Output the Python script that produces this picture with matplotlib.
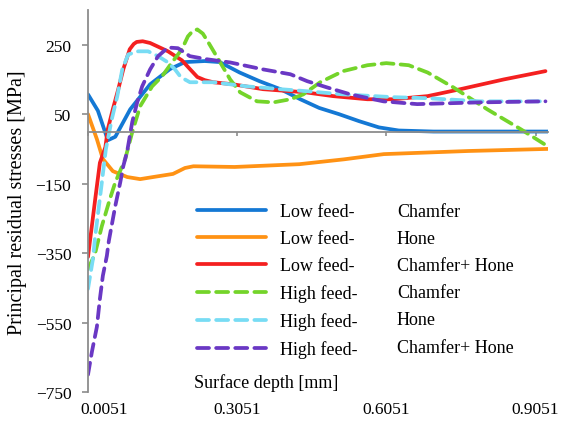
import matplotlib
matplotlib.use("Agg")
import matplotlib.pyplot as plt
import matplotlib.transforms as mtransforms
from matplotlib.lines import Line2D

plt.rcParams['font.family'] = ['Liberation Serif', 'DejaVu Serif']

# Low feed - Chamfer
blue_x = [0.0051, 0.025, 0.045, 0.06, 0.09, 0.13, 0.17, 0.20, 0.24, 0.27, 0.31, 0.35,
          0.392, 0.432, 0.47, 0.51, 0.55, 0.59, 0.63, 0.70, 0.80, 0.93]
blue_y = [107, 60, -25, -15, 64, 136, 180, 200, 203, 200, 170, 145,
          122, 93, 68, 50, 30, 12, 3, 0, 0, 0]

# Low feed - Hone
orange_x = [0.0051, 0.023, 0.035, 0.055, 0.084, 0.11, 0.136, 0.176, 0.20, 0.217,
            0.30, 0.43, 0.52, 0.60, 0.77, 0.93]
orange_y = [50, -22, -79, -114, -131, -137, -131, -122, -105, -100,
            -102, -94, -80, -65, -56, -50]

# Low feed - Chamfer+Hone
red_x = [0.0051, 0.02, 0.029, 0.040, 0.045, 0.055, 0.066, 0.076, 0.089, 0.097, 0.103, 0.115,
         0.13, 0.166, 0.194, 0.21, 0.225, 0.24, 0.257, 0.297, 0.357, 0.442, 0.498,
         0.567, 0.619, 0.688, 0.754, 0.841, 0.925]
red_y = [-361, -190, -90, -45, 7, 64, 122, 179, 237, 252, 258, 260,
         255, 231, 205, 180, 157, 148, 142, 136, 122, 113, 102,
         93, 93, 102, 122, 150, 174]

# High feed - Chamfer
green_x = [0.0051, 0.019, 0.033, 0.049, 0.060, 0.080, 0.094, 0.110, 0.134, 0.154, 0.174,
           0.194, 0.206, 0.216, 0.225, 0.236, 0.247, 0.271, 0.291, 0.311, 0.345, 0.378,
           0.412, 0.438, 0.472, 0.518, 0.567, 0.605, 0.650, 0.688, 0.740, 0.808, 0.875,
           0.929]
green_y = [-396, -353, -272, -195, -146, -79, -2, 73, 130, 159, 199,
           237, 274, 290, 294, 282, 257, 199, 150, 113, 87, 84,
           93, 107, 142, 174, 191, 197, 191, 170, 127, 64, 7,
           -42]

# High feed - Hone
cyan_x = [0.0051, 0.015, 0.019, 0.033, 0.041, 0.053, 0.064, 0.074, 0.086, 0.106, 0.126,
          0.146, 0.166, 0.18, 0.19, 0.20, 0.21, 0.257, 0.325, 0.392, 0.446, 0.518,
          0.619, 0.688, 0.794, 0.925]
cyan_y = [-453, -367, -309, -146, -51, 36, 102, 179, 222, 231, 231,
          217, 199, 179, 160, 150, 142, 142, 130, 122, 116, 107,
          99, 96, 87, 87]

# High feed - Chamfer+Hone
purple_x = [0.0051, 0.013, 0.023, 0.029, 0.035, 0.043, 0.047, 0.060, 0.070, 0.076, 0.084,
            0.094, 0.104, 0.114, 0.130, 0.146, 0.166, 0.186, 0.210, 0.245, 0.291, 0.357,
            0.412, 0.446, 0.486, 0.533, 0.599, 0.667, 0.794, 0.925]
purple_y = [-700, -634, -562, -482, -415, -358, -315, -214, -146, -100, -56,
            27, 84, 130, 179, 217, 242, 240, 217, 208, 199, 179,
            165, 145, 127, 107, 87, 79, 84, 87]

feeds = ["Low feed-", "Low feed-", "Low feed-", "High feed-", "High feed-", "High feed-"]
tools = ["Chamfer", "Hone", "Chamfer+ Hone", "Chamfer", "Hone", "Chamfer+ Hone"]

xticks = [0.0051, 0.3051, 0.6051, 0.9051]
yticks = [-750, -550, -350, -150, 50, 250]

gray = '#8c8c8c'

fig = plt.figure(figsize=(5.64, 4.27), dpi=100)
ax = fig.add_axes([88/564, 1-393/427, 460/564, 382/427])

series = [
    (blue_x, blue_y, '#1478d4', '-'),
    (orange_x, orange_y, '#ff9214', '-'),
    (red_x, red_y, '#f42020', '-'),
    (green_x, green_y, '#74d42a', '--'),
    (cyan_x, cyan_y, '#78dcf4', '--'),
    (purple_x, purple_y, '#6a38c4', '--'),
]
handles = []
for xs, ys, c, ls in series:
    if ls == '-':
        ln, = ax.plot(xs, ys, color=c, lw=2.7, solid_capstyle='round', solid_joinstyle='round')
    else:
        ln, = ax.plot(xs, ys, color=c, lw=2.7, dashes=(3.2, 1.9), dash_capstyle='round')
    handles.append(ln)

ax.set_xlim(0.0051, 0.9301)
ax.set_ylim(-750, 350)
ax.set_yticks(yticks)
ax.set_xticks(xticks)

for s in ['top', 'right']:
    ax.spines[s].set_visible(False)
ax.spines['left'].set_color(gray)
ax.spines['bottom'].set_color(gray)
ax.spines['left'].set_linewidth(1.3)
ax.spines['bottom'].set_linewidth(1.3)
ax.spines['bottom'].set_position(('data', 0))

ax.tick_params(axis='y', direction='out', length=4, width=1.2, color=gray,
               labelsize=12.5, pad=8)
ax.tick_params(axis='x', direction='out', length=3, width=1.2, color=gray,
               labelbottom=False)

# tick labels sit below the plot, not on the zero line
trans = mtransforms.blended_transform_factory(ax.transData, ax.transAxes)
for i, xt in enumerate(xticks):
    t = trans
    if i == 0:
        t = trans + mtransforms.ScaledTranslation(16/100, 0, fig.dpi_scale_trans)
    ax.text(xt, -0.045, f"{xt:.4f}", transform=t, ha='center', va='center', fontsize=12.5)

ax.text(0.387, 0.026, "Surface depth [mm]", transform=ax.transAxes,
        ha='center', va='center', fontsize=13)
fig.text(18/564, 1-203/427, "Principal residual stresses [MPa]", rotation=90,
         ha='center', va='center', fontsize=14.5)

leg1 = ax.legend(handles, feeds, loc='upper left', bbox_to_anchor=(197/564, 1-204/427),
                 bbox_transform=fig.transFigure, frameon=False, fontsize=13,
                 handlelength=3.8, handletextpad=0.8, borderpad=0, borderaxespad=0,
                 labelspacing=0.56)
ax.add_artist(leg1)
blank = [Line2D([], [], alpha=0) for _ in tools]
ax.legend(blank, tools, loc='upper left', bbox_to_anchor=(397/564, 1-204/427),
          bbox_transform=fig.transFigure, frameon=False, fontsize=13,
          handlelength=0, handletextpad=0, borderpad=0, borderaxespad=0,
          labelspacing=0.56)

fig.savefig("out.png", dpi=100)
